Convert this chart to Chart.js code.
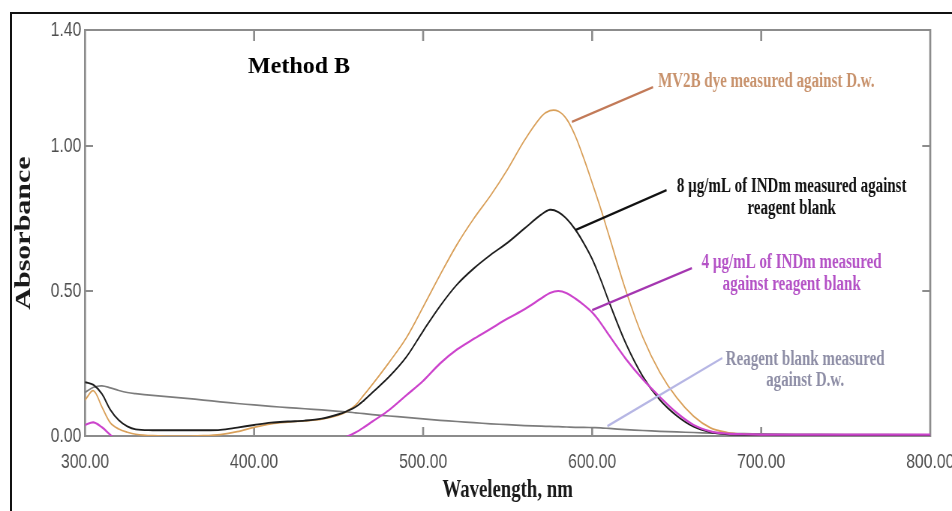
<!DOCTYPE html>
<html>
<head>
<meta charset="utf-8">
<title>Method B spectra</title>
<script src="https://cdn.jsdelivr.net/npm/chart.js@4.4.1/dist/chart.umd.min.js"></script>
<style>
  html, body { margin: 0; padding: 0; background: #fff; overflow: hidden; }
  #wrap { position: relative; width: 952px; height: 511px; }
  #frame { position: absolute; left: 10px; top: 12px; width: 1000px; height: 600px; border: 2px solid #111; }
  #spectra { position: absolute; left: 0; top: 0; }
</style>
</head>
<body>
<div id="wrap">
  <div id="frame"></div>
  <canvas id="spectra" width="1269" height="511" style="width:952px;height:511px"></canvas>
</div>
<script>
  // the figure is drawn wide and narrowed by CSS, so text comes out condensed
  const SQUEEZE = 0.75;

  const wavelengths = [300, 305, 310, 315, 320, 325, 330, 340, 350, 360, 370, 380, 390, 400, 410, 420, 430, 440, 450, 455,
    460, 465, 470, 480, 490, 500, 510, 520, 530, 540, 550, 560, 570, 575, 580, 585, 590, 595, 600, 605,
    610, 620, 630, 640, 650, 660, 670, 680, 690, 700, 720, 750, 800];

  // MV2B dye against distilled water
  const dyeAbs = [0.124, 0.156, 0.100, 0.045, 0.024, 0.013, 0.006, 0.001, 0.000, 0.000, 0.001, 0.005, 0.015, 0.030, 0.042, 0.048, 0.052, 0.058, 0.072, 0.085,
    0.106, 0.142, 0.178, 0.255, 0.338, 0.445, 0.555, 0.660, 0.750, 0.830, 0.920, 1.020, 1.102, 1.122, 1.120, 1.092, 1.035, 0.958, 0.873, 0.785,
    0.690, 0.500, 0.340, 0.220, 0.132, 0.068, 0.028, 0.012, 0.006, 0.004, 0.003, 0.003, 0.003];

  // 8 ug/mL INDm against reagent blank
  const ind8Abs = [0.186, 0.176, 0.145, 0.090, 0.054, 0.033, 0.023, 0.020, 0.020, 0.020, 0.020, 0.021, 0.029, 0.038, 0.046, 0.050, 0.053, 0.060, 0.075, 0.086,
    0.100, 0.123, 0.150, 0.205, 0.272, 0.362, 0.448, 0.522, 0.578, 0.625, 0.667, 0.716, 0.764, 0.780, 0.772, 0.748, 0.712, 0.665, 0.610, 0.540,
    0.462, 0.318, 0.205, 0.125, 0.070, 0.032, 0.013, 0.006, 0.004, 0.004, 0.003, 0.003, 0.003];

  // 4 ug/mL INDm against reagent blank (dips below zero between the bands)
  const ind4Abs = [0.038, 0.047, 0.030, 0.004, -0.020, -0.030, -0.030, -0.030, -0.030, -0.030, -0.030, -0.030, -0.030, -0.030, -0.030, -0.030, -0.030, -0.025, -0.012, -0.002,
    0.012, 0.030, 0.050, 0.090, 0.140, 0.190, 0.250, 0.298, 0.335, 0.370, 0.405, 0.437, 0.475, 0.493, 0.500, 0.492, 0.474, 0.452, 0.426, 0.390,
    0.347, 0.265, 0.195, 0.135, 0.080, 0.038, 0.016, 0.008, 0.006, 0.005, 0.005, 0.005, 0.005];

  // reagent blank against distilled water
  const blankAbs = [0.150, 0.168, 0.173, 0.166, 0.157, 0.150, 0.146, 0.140, 0.135, 0.130, 0.124, 0.118, 0.112, 0.107, 0.102, 0.098, 0.094, 0.090, 0.085, 0.083,
    0.080, 0.077, 0.074, 0.069, 0.064, 0.059, 0.054, 0.050, 0.046, 0.042, 0.039, 0.036, 0.034, 0.033, 0.032, 0.031, 0.030, 0.030, 0.029, 0.028,
    0.026, 0.022, 0.019, 0.016, 0.014, 0.012, 0.010, 0.009, 0.008, 0.007, 0.006, 0.005, 0.004];

  const xTicks = [300, 400, 500, 600, 700, 800];
  const yTicks = [0, 0.5, 1.0, 1.4];

  const SERIF = '"Liberation Serif", "Times New Roman", serif';
  const SANS = '"Liberation Sans", Arial, sans-serif';

  const toPoints = vals => vals.map((y, i) => ({ x: wavelengths[i], y: y }));

  // labels with leader lines, placed in nm / absorbance units
  const callouts = [
    { lines: ['MV2B dye measured against D.w.'], color: '#c8926c', lineColor: '#c27a58',
      from: [588, 1.083], to: [636, 1.203], at: [703, 1.203] },
    { lines: ['8 \u00b5g/mL of INDm measured against', 'reagent blank'], color: '#111', lineColor: '#111',
      from: [590, 0.710], to: [644, 0.848], at: [718, 0.841] },
    { lines: ['4 \u00b5g/mL of INDm measured', 'against reagent blank'], color: '#b452c6', lineColor: '#a436b0',
      from: [600, 0.434], to: [659, 0.579], at: [718, 0.579] },
    { lines: ['Reagent blank measured', 'against D.w.'], color: '#8e8ea6', lineColor: '#b6b6e4',
      from: [609, 0.034], to: [677, 0.269], at: [726, 0.245] }
  ];

  const framePlugin = {
    id: 'frame',
    beforeDatasetsDraw(chart) {
      const { ctx, chartArea: a, scales: { x, y } } = chart;
      ctx.save();
      ctx.strokeStyle = '#8c8c8c';
      ctx.lineCap = 'butt';
      // horizontal edges
      ctx.lineWidth = 2;
      ctx.beginPath();
      ctx.moveTo(a.left, a.top); ctx.lineTo(a.right, a.top);
      ctx.moveTo(a.left, a.bottom); ctx.lineTo(a.right, a.bottom);
      yTicks.slice(1, -1).forEach(v => {
        const py = y.getPixelForValue(v);
        ctx.moveTo(a.left, py); ctx.lineTo(a.left + 8 / SQUEEZE, py);
        ctx.moveTo(a.right, py); ctx.lineTo(a.right - 8 / SQUEEZE, py);
      });
      ctx.stroke();
      // vertical edges, thicker so they survive the squeeze
      ctx.lineWidth = 2 / SQUEEZE;
      ctx.beginPath();
      ctx.moveTo(a.left, a.top - 1); ctx.lineTo(a.left, a.bottom + 1);
      ctx.moveTo(a.right, a.top - 1); ctx.lineTo(a.right, a.bottom + 1);
      xTicks.slice(1, -1).forEach(v => {
        const px = x.getPixelForValue(v);
        ctx.moveTo(px, a.bottom); ctx.lineTo(px, a.bottom - 9);
        ctx.moveTo(px, a.top); ctx.lineTo(px, a.top + 11);
      });
      ctx.stroke();
      ctx.restore();
    }
  };

  const calloutPlugin = {
    id: 'callouts',
    afterDatasetsDraw(chart) {
      const { ctx, scales: { x, y } } = chart;
      ctx.save();
      callouts.forEach(c => {
        ctx.strokeStyle = c.lineColor;
        ctx.lineWidth = 2.4;
        ctx.beginPath();
        ctx.moveTo(x.getPixelForValue(c.from[0]), y.getPixelForValue(c.from[1]));
        ctx.lineTo(x.getPixelForValue(c.to[0]), y.getPixelForValue(c.to[1]));
        ctx.stroke();

        ctx.fillStyle = c.color;
        ctx.font = 'bold 20px ' + SERIF;
        ctx.textAlign = 'center';
        ctx.textBaseline = 'alphabetic';
        const cx = x.getPixelForValue(c.at[0]);
        const cy = y.getPixelForValue(c.at[1]);
        c.lines.forEach((t, i) => ctx.fillText(t, cx, cy + i * 21.5));
      });

      // panel caption, kept at normal width
      ctx.save();
      ctx.translate(x.getPixelForValue(426.6), y.getPixelForValue(1.252));
      ctx.scale(1 / SQUEEZE, 1);
      ctx.fillStyle = '#000';
      ctx.font = 'bold 24px ' + SERIF;
      ctx.textAlign = 'center';
      ctx.fillText('Method B', 0, 0);
      ctx.restore();
      ctx.restore();
    }
  };

  new Chart(document.getElementById('spectra'), {
    type: 'line',
    data: {
      datasets: [
        { label: '4 \u00b5g/mL INDm', data: toPoints(ind4Abs), borderColor: '#cc44cc', borderWidth: 2.2 },
        { label: '8 \u00b5g/mL INDm', data: toPoints(ind8Abs), borderColor: '#1e1e1e', borderWidth: 1.9 },
        { label: 'MV2B dye', data: toPoints(dyeAbs), borderColor: '#d9a05a', borderWidth: 1.7 },
        { label: 'Reagent blank', data: toPoints(blankAbs), borderColor: '#7c7c7c', borderWidth: 1.7 }
      ]
    },
    options: {
      responsive: false,
      devicePixelRatio: 1,
      animation: false,
      elements: {
        point: { radius: 0 },
        line: { tension: 0.35, fill: false }
      },
      layout: { padding: { top: 30, right: 29, left: 0, bottom: 0 } },
      plugins: {
        legend: { display: false },
        tooltip: { enabled: false }
      },
      scales: {
        x: {
          type: 'linear',
          min: 300,
          max: 800,
          grid: { display: false, drawTicks: false },
          border: { display: false },
          afterBuildTicks: s => { s.ticks = xTicks.map(v => ({ value: v })); },
          afterFit: s => { s.height = 75; s.paddingLeft = 0; s.paddingRight = 0; },
          ticks: {
            padding: 14,
            color: '#4e4e4e',
            autoSkip: false,
            maxRotation: 0,
            font: { family: SANS, size: 21 },
            callback: v => Number(v).toFixed(2)
          },
          title: {
            display: true,
            text: 'Wavelength, nm',
            color: '#1a1a1a',
            font: { family: SERIF, size: 25, weight: 'bold' },
            padding: { top: 0, bottom: 5 }
          }
        },
        y: {
          type: 'linear',
          min: 0,
          max: 1.4,
          grid: { display: false, drawTicks: false },
          border: { display: false },
          afterBuildTicks: s => { s.ticks = yTicks.map(v => ({ value: v })); },
          afterFit: s => { s.width = 85 / SQUEEZE; },
          ticks: {
            padding: 5,
            color: '#4e4e4e',
            font: { family: SANS, size: 21 },
            callback: v => Number(v).toFixed(2)
          },
          title: {
            display: true,
            text: 'Absorbance',
            color: '#1a1a1a',
            font: { family: SERIF, size: 30, weight: 'bold' },
            padding: { top: 14, bottom: 0 }
          }
        }
      }
    },
    plugins: [framePlugin, calloutPlugin]
  });
</script>
</body>
</html>
